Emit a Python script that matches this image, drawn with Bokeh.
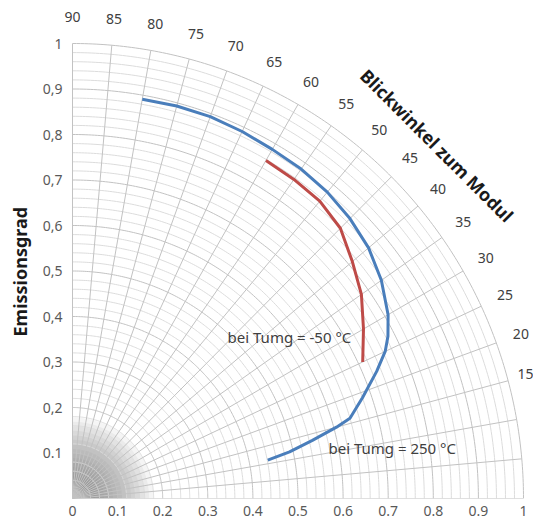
import numpy as np
from bokeh.plotting import figure
from bokeh.models import Range1d, FixedTicker, Title
from bokeh.core.properties import value
from bokeh.embed import file_html
from bokeh.resources import INLINE

# ---- data (viewing angle in degrees, emissivity) ----
angles_250 = [80, 75, 70, 65, 60, 55, 50, 45, 40, 35, 30, 27, 25, 22.5, 19, 16, 15, 13.5, 12, 11]
emis_250 = [0.891, 0.893, 0.893, 0.890, 0.886, 0.884, 0.879, 0.870, 0.857, 0.836,
            0.808, 0.785, 0.765, 0.730, 0.680, 0.640, 0.606, 0.547, 0.492, 0.441]
angles_m50 = [60, 55, 50, 45, 40, 35, 30, 25]
emis_m50 = [0.858, 0.856, 0.853, 0.840, 0.810, 0.782, 0.745, 0.710]

angle_ticks = [90, 85, 80, 75, 70, 65, 60, 55, 50, 45, 40, 35, 30, 25, 20]
angle_labels = [str(a) for a in angle_ticks]
edge_angle_tick = 15
x_ticks = [0, 0.1, 0.2, 0.3, 0.4, 0.5, 0.6, 0.7, 0.8, 0.9, 1]
x_tick_labels = ["0", "0.1", "0.2", "0.3", "0.4", "0.5", "0.6", "0.7", "0.8", "0.9", "1"]
y_ticks = [0.1, 0.2, 0.3, 0.4, 0.5, 0.6, 0.7, 0.8, 0.9, 1]
y_tick_labels = ["0.1", "0,2", "0,3", "0,4", "0,5", "0,6", "0,7", "0,8", "0,9", "1"]
arc_radii = [round(0.02 * i, 2) for i in range(1, 51)]
radial_angles = list(range(0, 91, 5))
shade_radii = [round(0.01 * i, 2) for i in range(1, 19)]

RX, RY = 451.0, 455.0          # pixels per unit
W, H = 533, 521
LEFT, BOTTOM = 62, 23
LEFT_PAD = 10                  # frame extends this many px left of the origin
x0 = -LEFT_PAD / RX
x1 = (W - LEFT - LEFT_PAD) / RX
y1 = (H - BOTTOM) / RY

p = figure(width=W, height=H, output_backend="svg", toolbar_location=None,
           x_range=Range1d(x0, x1), y_range=Range1d(0, y1),
           min_border_left=LEFT, min_border_right=0, min_border_top=0, min_border_bottom=BOTTOM)
p.xgrid.visible = False
p.ygrid.visible = False
p.outline_line_color = None
p.background_fill_color = "white"

# shading near origin
p.wedge(x=0, y=0, radius=shade_radii, start_angle=0, end_angle=np.pi / 2,
        fill_color="#4d4d4d", fill_alpha=0.06, line_color=None)

# polar grid
th = np.radians(np.linspace(0, 90, 181))
minor_r = [r for r in arc_radii if abs(r * 10 - round(r * 10)) > 1e-6]
major_r = [r for r in arc_radii if abs(r * 10 - round(r * 10)) <= 1e-6]
p.multi_line([list(r * np.cos(th)) for r in minor_r], [list(r * np.sin(th)) for r in minor_r],
             line_color="#dcdcdc", line_width=1)
p.multi_line([list(r * np.cos(th)) for r in major_r], [list(r * np.sin(th)) for r in major_r],
             line_color="#c2c2c2", line_width=1)
p.multi_line([[0, np.cos(np.radians(a))] for a in radial_angles],
             [[0, np.sin(np.radians(a))] for a in radial_angles],
             line_color="#c2c2c2", line_width=1)

# angle labels
lr = 1.058
p.text(x=[lr * np.cos(np.radians(a)) for a in angle_ticks],
       y=[lr * np.sin(np.radians(a)) for a in angle_ticks],
       text=angle_labels, text_align="center", text_baseline="middle",
       text_font=value("Noto Sans"), text_font_size="14px", text_color="#404040")
p.text(x=[x1], y=[lr * np.sin(np.radians(edge_angle_tick))], text=[str(edge_angle_tick)],
       text_align="right", text_baseline="middle",
       text_font=value("Noto Sans"), text_font_size="14px", text_color="#404040")

# curves
a250 = np.radians(angles_250)
am50 = np.radians(angles_m50)
p.line(x=list(np.array(emis_250) * np.cos(a250)), y=list(np.array(emis_250) * np.sin(a250)),
       line_color="#4a7ebb", line_width=3)
p.line(x=list(np.array(emis_m50) * np.cos(am50)), y=list(np.array(emis_m50) * np.sin(am50)),
       line_color="#be4b48", line_width=3)

# annotations
p.text(x=[0.481], y=[0.354], text=["bei Tumg = -50 °C"], text_align="center", text_baseline="middle",
       text_font=value("Noto Sans"), text_font_size="15px", text_color="#404040")
p.text(x=[0.709], y=[0.110], text=["bei Tumg = 250 °C"], text_align="center", text_baseline="middle",
       text_font=value("Noto Sans"), text_font_size="15px", text_color="#404040")
p.text(x=[0.808], y=[0.776], text=["Blickwinkel zum Modul"], angle=-45, angle_units="deg",
       text_align="center", text_baseline="middle",
       text_font=value("Noto Sans"), text_font_size="18px", text_font_style="bold", text_color="#1a1a1a")

# axes
for ax in (p.xaxis[0], p.yaxis[0]):
    ax.axis_line_color = None
    ax.major_tick_line_color = None
    ax.minor_tick_line_color = None
    ax.major_tick_out = 0
    ax.major_tick_in = 0
    ax.minor_tick_out = 0
    ax.minor_tick_in = 0
    ax.major_label_text_font = "Noto Sans"
    ax.major_label_text_font_size = "14px"
    ax.major_label_text_color = "#595959"

p.xaxis.ticker = FixedTicker(ticks=x_ticks)
p.xaxis.major_label_overrides = dict(zip(x_ticks, x_tick_labels))
p.xaxis.major_label_standoff = 7
p.yaxis.ticker = FixedTicker(ticks=y_ticks)
p.yaxis.major_label_overrides = dict(zip(y_ticks, y_tick_labels))
p.yaxis.major_label_standoff = 0

ytitle = Title(text="Emissionsgrad", align="left", offset=162, vertical_align="middle",
               text_font="Noto Sans", text_font_size="18px", text_font_style="bold",
               text_color="#1a1a1a", standoff=13)
p.add_layout(ytitle, "left")

open("out.html", "w").write(file_html(p, INLINE))
